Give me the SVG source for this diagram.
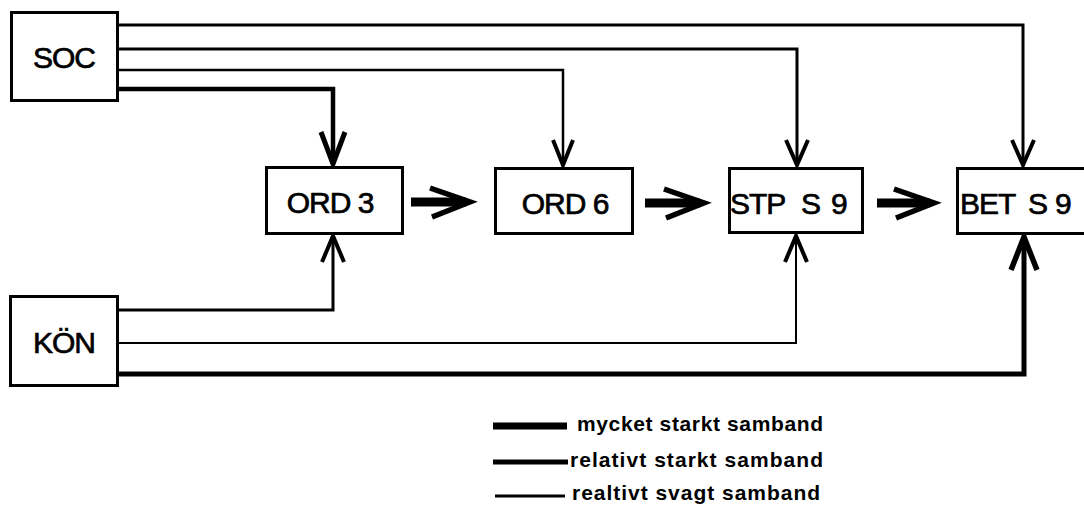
<svg xmlns="http://www.w3.org/2000/svg" width="1084" height="506" viewBox="0 0 1084 506">
<style>
.box{fill:#fff;stroke:#000;stroke-width:3}
.lbl{font-family:"Liberation Sans",Arial,sans-serif;font-size:30px;fill:#000;stroke:#000;stroke-width:0.7px;letter-spacing:-1px}
.leg{font-family:"Liberation Sans",Arial,sans-serif;font-size:21px;font-weight:bold;fill:#000}
.ln{fill:none;stroke:#000;stroke-linejoin:miter;stroke-linecap:butt}
</style>
<rect width="1084" height="506" fill="#fff"/>
<g id="connectors">
  <path class="ln" stroke-width="3" d="M118 25 H1023 V165"/>
  <polyline class="ln" stroke-width="4" points="1012,140 1023,165 1034,140"/>
  <path class="ln" stroke-width="3" d="M118 49 H797 V165"/>
  <polyline class="ln" stroke-width="4" points="786,140 797,165 808,140"/>
  <path class="ln" stroke-width="2.5" d="M118 70 H563 V165"/>
  <polyline class="ln" stroke-width="4" points="553,140 563,165 573,140"/>
  <path class="ln" stroke-width="4.5" d="M118 89 H333 V164"/>
  <polyline class="ln" stroke-width="5" points="321,132 333,164 345,132"/>
  <path class="ln" stroke-width="3" d="M118 310 H333 V236"/>
  <polyline class="ln" stroke-width="4" points="322,262 333,236 344,262"/>
  <path class="ln" stroke-width="2" d="M118 343 H796 V236"/>
  <polyline class="ln" stroke-width="4" points="785,262 796,236 807,262"/>
  <path class="ln" stroke-width="5" d="M118 374 H1024 V237"/>
  <polyline class="ln" stroke-width="5.5" points="1011,270 1024,237 1037,270"/>
  <line class="ln" stroke-width="9" x1="411" y1="202" x2="466" y2="202"/>
  <polyline class="ln" stroke-width="5.5" points="430,188 470,202 432,217"/>
  <line class="ln" stroke-width="9" x1="645" y1="203" x2="700" y2="203"/>
  <polyline class="ln" stroke-width="5.5" points="664,189 704,203 666,218"/>
  <line class="ln" stroke-width="9" x1="877" y1="203" x2="930" y2="203"/>
  <polyline class="ln" stroke-width="5.5" points="894,189 934,203 896,218"/>
</g>
<g id="node-soc">
  <rect class="box" x="11.5" y="12.5" width="106" height="88"/>
  <text class="lbl" x="64" y="68" text-anchor="middle">SOC</text>
</g>
<g id="node-kon">
  <rect class="box" x="10.5" y="296.5" width="107" height="89"/>
  <text class="lbl" x="64" y="353" text-anchor="middle">KÖN</text>
</g>
<g id="node-ord3">
  <rect class="box" x="266.5" y="167.5" width="136" height="66"/>
  <text class="lbl" x="330" y="213" text-anchor="middle">ORD 3</text>
</g>
<g id="node-ord6">
  <rect class="box" x="495.5" y="168.5" width="137" height="65"/>
  <text class="lbl" x="565" y="214" text-anchor="middle">ORD 6</text>
</g>
<g id="node-stps9">
  <rect class="box" x="729.5" y="168.5" width="133" height="64"/>
  <text class="lbl" y="214"><tspan x="730">STP</tspan> <tspan x="801">S</tspan> <tspan x="831">9</tspan></text>
</g>
<g id="node-bets9">
  <rect class="box" x="957.5" y="168.5" width="130" height="65"/>
  <text class="lbl" y="214"><tspan x="960">BET</tspan> <tspan x="1028">S</tspan> <tspan x="1055">9</tspan></text>
</g>
<g id="legend">
  <line class="ln" stroke-width="7" x1="493" y1="426" x2="567" y2="426"/>
  <text class="leg" x="577" y="431" textLength="246" lengthAdjust="spacing">mycket  starkt  samband</text>
  <line class="ln" stroke-width="5" x1="493" y1="462" x2="568" y2="462"/>
  <text class="leg" x="570" y="467" textLength="253" lengthAdjust="spacing">relativt  starkt  samband</text>
  <line class="ln" stroke-width="3" x1="495" y1="496" x2="565" y2="496"/>
  <text class="leg" x="572" y="500" textLength="248" lengthAdjust="spacing">realtivt  svagt  samband</text>
</g>
</svg>
